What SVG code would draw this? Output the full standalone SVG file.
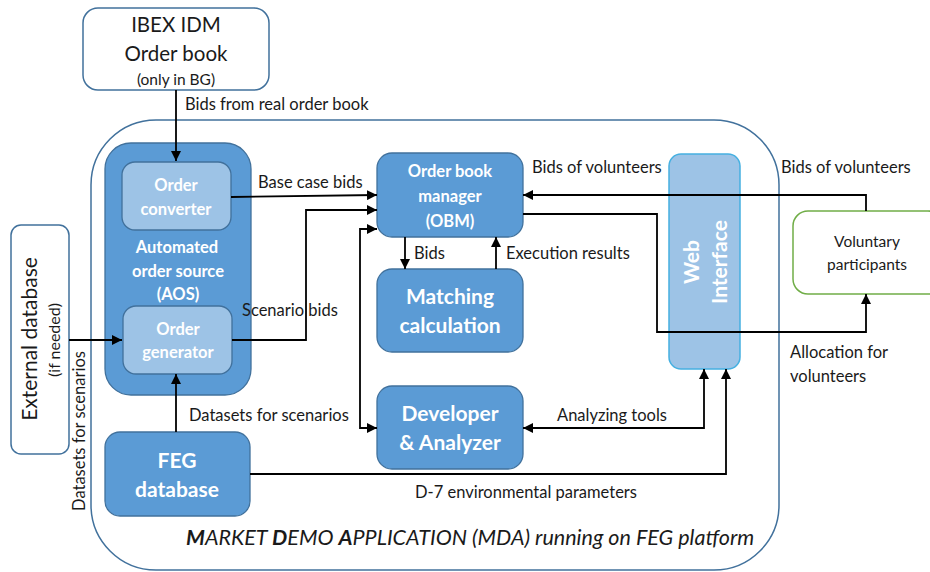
<svg xmlns="http://www.w3.org/2000/svg" width="930" height="572" viewBox="0 0 930 572">
  <defs>
    <marker id="arrow" viewBox="0 0 10 10" refX="10" refY="5" markerWidth="10" markerHeight="10" markerUnits="userSpaceOnUse" orient="auto-start-reverse">
      <path d="M0,0 L10,5 L0,10 z" fill="#000"/>
    </marker>
    <style>
      text { font-family: Lato, "Open Sans", "Liberation Sans", sans-serif; fill: #1a1a1a; }
      .lbl { font-size: 16.5px; }
      .wt { fill: #fff; font-weight: bold; text-anchor: middle; }
      .blue { fill: #5b9bd5; stroke: #41719c; stroke-width: 1.3; }
      .inner { fill: #9dc3e6; stroke: #41719c; stroke-width: 1.3; }
      .outline { fill: #fff; stroke: #41719c; stroke-width: 1.5; }
      .wire { fill: none; stroke: #000; stroke-width: 1.8; }
      .mid { text-anchor: middle; }
    </style>
  </defs>

  <!-- platform container -->
  <g id="mda">
    <path d="M156,120 H714 A65,65 0 0 1 779,185 V505 A65,65 0 0 1 714,570 H156 A65,65 0 0 1 91,505 V185 A65,65 0 0 1 156,120 Z" fill="none" stroke="#41719c" stroke-width="1.5"/>
    <text x="186" y="545" font-size="21.5" font-style="italic"><tspan font-weight="bold">M</tspan>ARKET <tspan font-weight="bold">D</tspan>EMO <tspan font-weight="bold">A</tspan>PPLICATION (MDA) running on FEG platform</text>
  </g>

  <!-- IBEX order book -->
  <g id="ibex">
    <rect class="outline" x="83" y="8" width="186" height="82" rx="15"/>
    <text class="mid" x="176" y="32" font-size="20.5">IBEX IDM</text>
    <text class="mid" x="176" y="61" font-size="20.5">Order book</text>
    <text class="mid" x="176" y="85" font-size="15.5">(only in BG)</text>
  </g>

  <!-- external database -->
  <g id="external-db">
    <rect class="outline" x="11" y="225" width="58" height="229" rx="10"/>
    <text class="mid" transform="translate(37,339) rotate(-90)" font-size="21">External database</text>
    <text class="mid" transform="translate(60,340) rotate(-90)" font-size="16">(if needed)</text>
  </g>

  <!-- automated order source -->
  <g id="aos">
    <rect class="blue" x="105" y="143" width="146" height="252" rx="26"/>
    <text class="wt" x="177" y="253" font-size="16.5">Automated</text>
    <text class="wt" x="178" y="277" font-size="16.5">order source</text>
    <text class="wt" x="178" y="300" font-size="16.5">(AOS)</text>
  </g>
  <g id="order-converter">
    <rect class="inner" x="122" y="162" width="109" height="68" rx="13"/>
    <text class="wt" x="176" y="191" font-size="16.5">Order</text>
    <text class="wt" x="176" y="215" font-size="16.5">converter</text>
  </g>
  <g id="order-generator">
    <rect class="inner" x="123" y="306" width="109" height="68" rx="13"/>
    <text class="wt" x="178" y="335" font-size="16.5">Order</text>
    <text class="wt" x="178" y="358" font-size="16.5">generator</text>
  </g>

  <!-- FEG database -->
  <g id="feg-db">
    <rect class="blue" x="105" y="432" width="145" height="84" rx="15"/>
    <text class="wt" x="177" y="468" font-size="21">FEG</text>
    <text class="wt" x="177" y="497" font-size="21">database</text>
  </g>

  <!-- order book manager -->
  <g id="obm">
    <rect class="blue" x="377" y="153" width="146" height="84" rx="15"/>
    <text class="wt" x="450" y="177" font-size="16.5">Order book</text>
    <text class="wt" x="450" y="202" font-size="16.5">manager</text>
    <text class="wt" x="450" y="227" font-size="16.5">(OBM)</text>
  </g>

  <!-- matching -->
  <g id="matching">
    <rect class="blue" x="377" y="269" width="146" height="83" rx="15"/>
    <text class="wt" x="450" y="304" font-size="21">Matching</text>
    <text class="wt" x="450" y="333" font-size="21">calculation</text>
  </g>

  <!-- developer & analyzer -->
  <g id="developer">
    <rect class="blue" x="377" y="386" width="146" height="83" rx="15"/>
    <text class="wt" x="450" y="421" font-size="21">Developer</text>
    <text class="wt" x="450" y="450" font-size="21">&amp; Analyzer</text>
  </g>

  <!-- web interface -->
  <g id="web">
    <rect x="669" y="154" width="71" height="215" rx="12" fill="#9dc3e6" stroke="#45b0e1" stroke-width="1.5"/>
    <text class="wt" transform="translate(699,262) rotate(-90)" font-size="21">Web</text>
    <text class="wt" transform="translate(727,262) rotate(-90)" font-size="21">Interface</text>
  </g>

  <!-- voluntary participants -->
  <g id="volunteers">
    <rect x="793" y="211" width="150" height="83" rx="15" fill="#fff" stroke="#70ad47" stroke-width="1.5"/>
    <text class="mid" x="867" y="247" font-size="15.5">Voluntary</text>
    <text class="mid" x="867" y="270" font-size="15.5">participants</text>
  </g>

  <!-- connectors -->
  <g id="connectors">
    <path class="wire" d="M176,90 V161" marker-end="url(#arrow)"/>
    <path class="wire" d="M231,197 L377,195" marker-end="url(#arrow)"/>
    <path class="wire" d="M232,340 H306 V210 H377" marker-end="url(#arrow)"/>
    <path class="wire" d="M377,229 H360 V428 H377" marker-start="url(#arrow)" marker-end="url(#arrow)"/>
    <path class="wire" d="M69,340 H122" marker-end="url(#arrow)"/>
    <path class="wire" d="M176,432 V374" marker-end="url(#arrow)"/>
    <path class="wire" d="M405,237 V269" marker-end="url(#arrow)"/>
    <path class="wire" d="M496,269 V237" marker-end="url(#arrow)"/>
    <path class="wire" d="M866,211 V195 H523" marker-end="url(#arrow)"/>
    <path class="wire" d="M523,214 H657 V332 H866 V294" marker-end="url(#arrow)"/>
    <path class="wire" d="M523,428 H704 V369" marker-start="url(#arrow)" marker-end="url(#arrow)"/>
    <path class="wire" d="M250,474 H726 V369" marker-end="url(#arrow)"/>
  </g>

  <!-- connector labels -->
  <g id="labels">
    <text class="lbl" x="185" y="110">Bids from real order book</text>
    <text class="lbl" x="258" y="188">Base case bids</text>
    <text class="lbl" x="242" y="316">Scenario bids</text>
    <text class="lbl" x="189" y="421">Datasets for scenarios</text>
    <text class="lbl mid" transform="translate(85,431) rotate(-90)">Datasets for scenarios</text>
    <text class="lbl" x="414" y="259">Bids</text>
    <text class="lbl" x="506" y="259">Execution results</text>
    <text class="lbl" x="532" y="173">Bids of volunteers</text>
    <text class="lbl" x="781" y="173">Bids of volunteers</text>
    <text class="lbl" x="790" y="358">Allocation for</text>
    <text class="lbl" x="790" y="382">volunteers</text>
    <text class="lbl" x="557" y="421">Analyzing tools</text>
    <text class="lbl" x="415" y="498">D-7 environmental parameters</text>
  </g>
</svg>
